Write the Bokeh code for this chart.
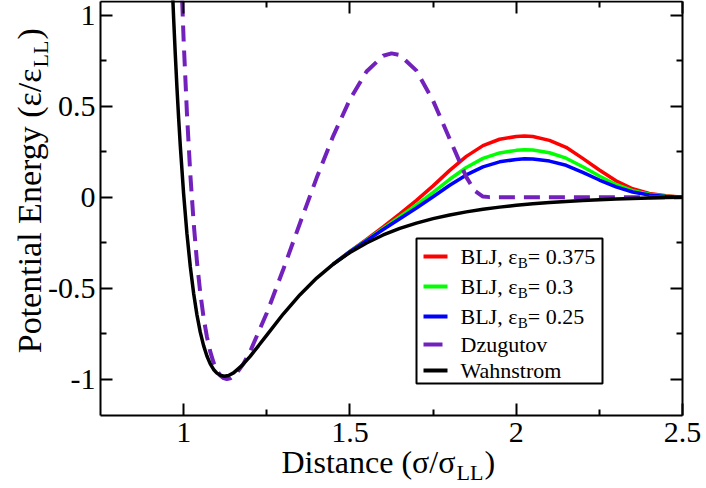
import math
from bokeh.plotting import figure
from bokeh.models import Range1d, LinearAxis, FixedTicker, Label
from bokeh.embed import file_html
from bokeh.resources import INLINE

# ---------------- data ----------------
wahn_x = [0.965, 0.97, 0.975, 0.98, 0.985, 0.99, 1.0, 1.01, 1.02, 1.03, 1.04, 1.05,
          1.06, 1.07, 1.08, 1.09, 1.10, 1.11, 1.122, 1.135, 1.15, 1.175, 1.2, 1.225,
          1.25, 1.3, 1.35, 1.4, 1.45, 1.5, 1.55, 1.6, 1.65, 1.7, 1.75, 1.8, 1.85, 1.9,
          1.95, 2.0, 2.05, 2.1, 2.15, 2.2, 2.25, 2.3, 2.35, 2.4, 2.45, 2.5]
wahn_y = [1.197, 0.979, 0.780, 0.598, 0.432, 0.280, 0.016, -0.202, -0.382, -0.528,
          -0.647, -0.742, -0.816, -0.873, -0.916, -0.947, -0.967, -0.979, -0.984,
          -0.980, -0.966, -0.926, -0.875, -0.817, -0.758, -0.641, -0.536, -0.445,
          -0.368, -0.304, -0.252, -0.208, -0.172, -0.143, -0.118, -0.098, -0.081,
          -0.067, -0.055, -0.045, -0.037, -0.030, -0.024, -0.019, -0.014, -0.0105,
          -0.007, -0.0045, -0.002, 0.0]

blj_x = [1.45, 1.5, 1.55, 1.6, 1.65, 1.7, 1.75, 1.8, 1.85, 1.9, 1.95, 2.0, 2.025,
         2.05, 2.1, 2.15, 2.2, 2.25, 2.3, 2.35, 2.4, 2.45, 2.5]
blj0375_y = [-0.368, -0.298, -0.232, -0.163, -0.092, -0.018, 0.062, 0.147, 0.224,
             0.283, 0.318, 0.333, 0.336, 0.333, 0.312, 0.274, 0.213, 0.149, 0.0895,
             0.046, 0.0205, 0.007, 0.0]
blj03_y = [-0.368, -0.299, -0.236, -0.172, -0.108, -0.043, 0.026, 0.098, 0.163,
           0.213, 0.243, 0.257, 0.260, 0.259, 0.244, 0.214, 0.167, 0.116, 0.0695,
           0.035, 0.0155, 0.005, 0.0]
blj025_y = [-0.368, -0.300, -0.239, -0.178, -0.119, -0.060, 0.002, 0.065, 0.122,
            0.166, 0.194, 0.207, 0.211, 0.210, 0.198, 0.175, 0.136, 0.094, 0.056,
            0.028, 0.012, 0.004, 0.0]

dz_x = [0.99, 1.0, 1.01, 1.02, 1.03, 1.04, 1.05, 1.06, 1.07, 1.08, 1.09, 1.10, 1.11,
        1.12, 1.13, 1.14, 1.16, 1.18, 1.20, 1.25, 1.30, 1.35, 1.40, 1.45, 1.50, 1.55,
        1.60, 1.625, 1.65, 1.70, 1.75, 1.80, 1.85, 1.875, 1.90, 1.92, 2.0, 2.5]
dz_y = [1.355, 0.861, 0.457, 0.128, -0.139, -0.354, -0.526, -0.662, -0.768, -0.849,
        -0.909, -0.952, -0.980, -0.995, -1.0, -0.996, -0.966, -0.915, -0.848, -0.637,
        -0.395, -0.142, 0.106, 0.337, 0.537, 0.690, 0.777, 0.790, 0.781, 0.695, 0.530,
        0.320, 0.110, 0.035, 0.003, 0.0, 0.0, 0.0]

x_ticks = [1, 1.5, 2, 2.5]
x_tick_labels = ["1", "1.5", "2", "2.5"]
x_minor = [1.25, 1.75, 2.25]
y_ticks = [-1, -0.5, 0, 0.5, 1]
y_tick_labels = ["-1", "-0.5", "0", "0.5", "1"]
y_minor = [-0.75, -0.25, 0.25, 0.75]

# ---------------- layout ----------------
X0, X1 = 0.75, 2.5          # visible axis box
Y0, Y1 = -1.2, 1.075
W, H = 706, 488
FL, FR, FT, FB = 100, 682, 1, 415   # box position in pixels
FONT = "Liberation Serif"


def sx(px):
    return X0 + (px - FL) * (X1 - X0) / (FR - FL)


def sy(py):
    return Y1 - (py - FT) * (Y1 - Y0) / (FB - FT)


# the frame covers the whole canvas; the axes sit at fixed locations on the box
p = figure(width=W, height=H, x_range=Range1d(sx(0), sx(W)), y_range=Range1d(sy(H), sy(0)),
           output_backend="svg", toolbar_location=None,
           min_border_left=0, min_border_right=0, min_border_top=0, min_border_bottom=0,
           x_axis_type=None, y_axis_type=None)
p.outline_line_color = None
p.background_fill_color = "white"
p.border_fill_color = "white"


def make_axis(ticks, minor, labels, loc, bounds, show, standoff):
    ax = LinearAxis(ticker=FixedTicker(ticks=ticks, minor_ticks=minor),
                    fixed_location=loc, bounds=bounds)
    ax.axis_line_width = 2
    ax.axis_line_color = "black"
    ax.major_tick_line_width = 2
    ax.minor_tick_line_width = 2
    ax.major_tick_line_color = "black"
    ax.minor_tick_line_color = "black"
    ax.major_tick_in = 12
    ax.major_tick_out = 0
    ax.minor_tick_in = 6
    ax.minor_tick_out = 0
    ax.major_label_overrides = {t: l for t, l in zip(ticks, labels)}
    ax.major_label_text_font = FONT
    ax.major_label_text_font_size = "30px"
    ax.major_label_standoff = standoff
    ax.major_label_text_color = "black" if show else None
    return ax


p.add_layout(make_axis(x_ticks, x_minor, x_tick_labels, Y0, (X0, X1), True, 7), "below")
p.add_layout(make_axis(y_ticks, y_minor, y_tick_labels, X0, (Y0, Y1), True, 5), "left")
p.add_layout(make_axis(x_ticks, x_minor, x_tick_labels, Y1, (X0, X1), False, 0), "above")
p.add_layout(make_axis(y_ticks, y_minor, y_tick_labels, X1, (Y0, Y1), False, 0), "right")

RED, GREEN, BLUE, PURPLE, BLACK = "#ff0000", "#00ff00", "#0000ff", "#7221bc", "#000000"
DASH = "16 9"

p.line(blj_x, blj0375_y, line_color=RED, line_width=3.5)
p.line(blj_x, blj03_y, line_color=GREEN, line_width=3.5)
p.line(blj_x, blj025_y, line_color=BLUE, line_width=3.5)
p.line(dz_x, dz_y, line_color=PURPLE, line_width=4, line_dash=DASH)
p.line(wahn_x, wahn_y, line_color=BLACK, line_width=3.5)

# ---------------- legend (drawn by hand for the subscripts) ----------------
p.quad(left=[sx(416)], right=[sx(602)], top=[sy(238)], bottom=[sy(383)],
       fill_color="white", line_color="black", line_width=2)

rows = [256, 286, 316, 344, 370]
styles = [(RED, None), (GREEN, None), (BLUE, None), (PURPLE, DASH), (BLACK, None)]
for cy, (col, dash) in zip(rows, styles):
    kw = dict(line_color=col, line_width=4)
    if dash:
        kw["line_dash"] = "19 20"
    p.line([sx(423), sx(447)], [sy(cy), sy(cy)], **kw)

TX = 460
LFS = 22
SUB = 15
eps_w = 2.605 * LFS
subB_w = 0.667 * SUB


def lab(px, py, text, size, align="left", angle=0.0):
    p.add_layout(Label(x=sx(px), y=sy(py), text=text, text_font=FONT,
                       text_font_size=f"{size}px", text_color="black",
                       text_align=align, text_baseline="middle", angle=angle))


for cy, val in zip(rows[:3], ["0.375", "0.3", "0.25"]):
    lab(TX, cy, "BLJ, ε", LFS)
    lab(TX + eps_w, cy + 6, "B", SUB)
    lab(TX + eps_w + subB_w, cy, "= " + val, LFS)
lab(TX, rows[3], "Dzugutov", LFS)
lab(TX, rows[4], "Wahnstrom", LFS)

# ---------------- axis titles ----------------
lab(455, 461, "Distance (σ/σ", 32, align="right")
lab(456, 472, "LL", 22)
lab(484, 461, ")", 32)

lab(29, 68, "Potential Energy (ε/ε", 34, align="right", angle=math.pi / 2)
lab(40, 67, "LL", 22, angle=math.pi / 2)
lab(29, 39, ")", 34, angle=math.pi / 2)

open("out.html", "w").write(file_html(p, INLINE))
